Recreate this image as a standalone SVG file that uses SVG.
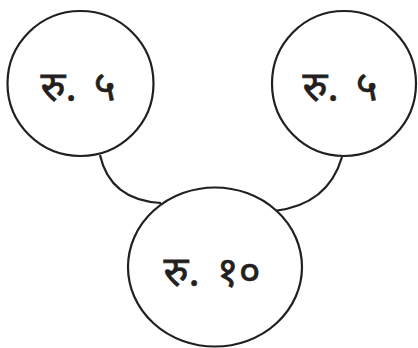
<svg xmlns="http://www.w3.org/2000/svg" width="418" height="348" viewBox="0 0 418 348">
<style>
.node{fill:#fff;stroke:#231f20;stroke-width:2.2}
.edge{fill:none;stroke:#231f20;stroke-width:2.2}
.lbl{font-family:"Noto Sans Devanagari","Noto Sans","DejaVu Sans",sans-serif;font-size:42px;fill:#231f20;stroke:#231f20;stroke-width:0.6;text-anchor:middle;word-spacing:6px}
</style>
<rect width="418" height="348" fill="#fff"/>
<g id="connectors">
<path class="edge" d="M100,155 Q110,200 161,203"/>
<path class="edge" d="M342,157 Q328,205 274,211"/>
</g>
<g id="node-left">
<ellipse class="node" cx="80.5" cy="83.5" rx="73" ry="72.5"/>
<text class="lbl" x="78" y="101">रु. ५</text>
</g>
<g id="node-right">
<ellipse class="node" cx="344" cy="83.5" rx="72" ry="72.5"/>
<text class="lbl" x="340" y="101">रु. ५</text>
</g>
<g id="node-bottom">
<ellipse class="node" cx="215" cy="267" rx="87" ry="79.5"/>
<text class="lbl" x="212" y="286">रु. १०</text>
</g>
</svg>
